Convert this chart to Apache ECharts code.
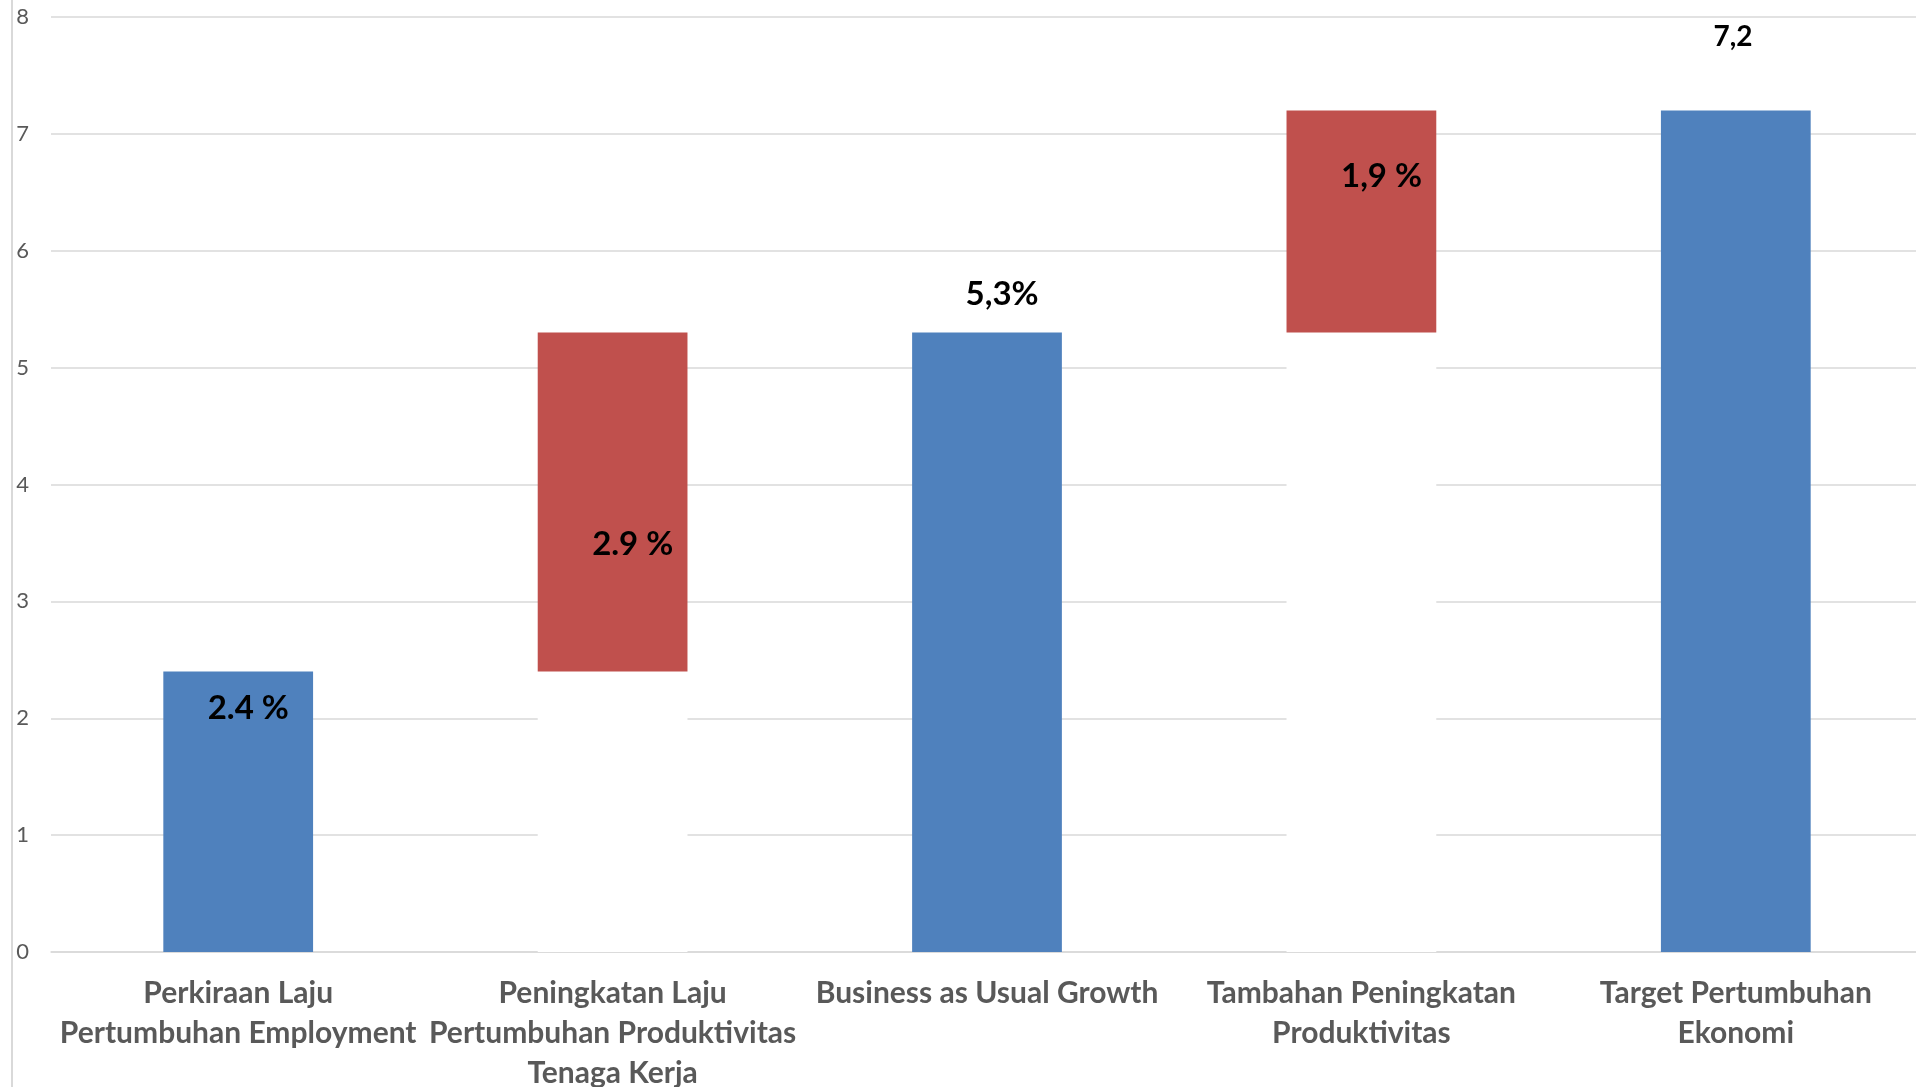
<!DOCTYPE html>
<html>
<head>
<meta charset="utf-8">
<title>Target Pertumbuhan Ekonomi</title>
<script src="https://cdn.jsdelivr.net/npm/echarts@6/dist/echarts.min.js"></script>
<style>
  html, body { margin: 0; padding: 0; background: #ffffff; overflow: hidden; }
  #chart { width: 1916px; height: 1087px; }
</style>
</head>
<body>
<div id="chart"></div>
<script>
// Categories along the x axis
const categories = [
  'Perkiraan Laju\nPertumbuhan Employment',
  'Peningkatan Laju\nPertumbuhan Produktivitas\nTenaga Kerja',
  'Business as Usual Growth',
  'Tambahan Peningkatan\nProduktivitas',
  'Target Pertumbuhan\nEkonomi'
];

// Invisible (white) base that lifts the increment bars
const baseValues = [0, 2.4, 0, 5.3, 0];
// Totals (blue)
const totalValues = [2.4, null, 5.3, null, 7.2];
// Increments (red)
const stepValues = [null, 2.9, null, 1.9, null];
// Data label texts
const labelTexts = ['2.4 %', '2.9 %', '5,3%', '1,9 %', '7,2'];
// Y axis range
const yMin = 0, yMax = 8, yStep = 1;

const labelFont = 'Lato, "Open Sans", sans-serif';

// Label placement per bar, relative to the bar's top-left corner
const labelPlacement = [
  { position: [85, 37], fontSize: 33 },
  { position: [95, 212], fontSize: 33 },
  { position: [90, -38], fontSize: 33 },
  { position: [95, 66], fontSize: 33 },
  { position: [72, -74], fontSize: 28 }
];

function withLabels(values) {
  return values.map((v, i) => {
    if (v === null) return null;
    const p = labelPlacement[i];
    return {
      value: v,
      label: {
        show: true,
        formatter: labelTexts[i],
        position: p.position,
        align: 'center',
        verticalAlign: 'middle',
        fontSize: p.fontSize,
        fontWeight: 'bold',
        fontFamily: labelFont,
        color: '#000000'
      }
    };
  });
}

const chart = echarts.init(document.getElementById('chart'), null, { renderer: 'canvas' });

chart.setOption({
  animation: false,
  backgroundColor: '#ffffff',
  grid: {
    left: 51, right: -7, top: 17, bottom: 135,
    containLabel: false,
    outerBoundsMode: 'none'
  },
  graphic: [
    {
      type: 'line',
      shape: { x1: 12, y1: 0, x2: 12, y2: 1087 },
      style: { stroke: '#d9d9d9', lineWidth: 2 },
      silent: true
    }
  ],
  xAxis: {
    type: 'category',
    data: categories,
    axisLine: { show: true, lineStyle: { color: '#d9d9d9', width: 1.5 } },
    axisTick: { show: false },
    axisLabel: {
      interval: 0,
      margin: 21,
      color: '#595959',
      fontSize: 30,
      fontWeight: 'bold',
      fontFamily: labelFont,
      lineHeight: 40,
      align: 'center'
    }
  },
  yAxis: {
    type: 'value',
    min: yMin,
    max: yMax,
    interval: yStep,
    axisLine: { show: false },
    axisTick: { show: false },
    splitLine: { lineStyle: { color: '#d9d9d9', width: 1.5 } },
    axisLabel: {
      margin: 22,
      color: '#595959',
      fontSize: 22,
      fontFamily: labelFont
    }
  },
  series: [
    {
      name: 'base',
      type: 'bar',
      stack: 'waterfall',
      data: baseValues,
      barWidth: '40%',
      itemStyle: { color: '#ffffff' },
      silent: true
    },
    {
      name: 'total',
      type: 'bar',
      stack: 'waterfall',
      data: withLabels(totalValues),
      barWidth: '40%',
      itemStyle: { color: '#4F81BD' }
    },
    {
      name: 'step',
      type: 'bar',
      stack: 'waterfall',
      data: withLabels(stepValues),
      barWidth: '40%',
      itemStyle: { color: '#C0504D' }
    }
  ]
});
</script>
</body>
</html>
